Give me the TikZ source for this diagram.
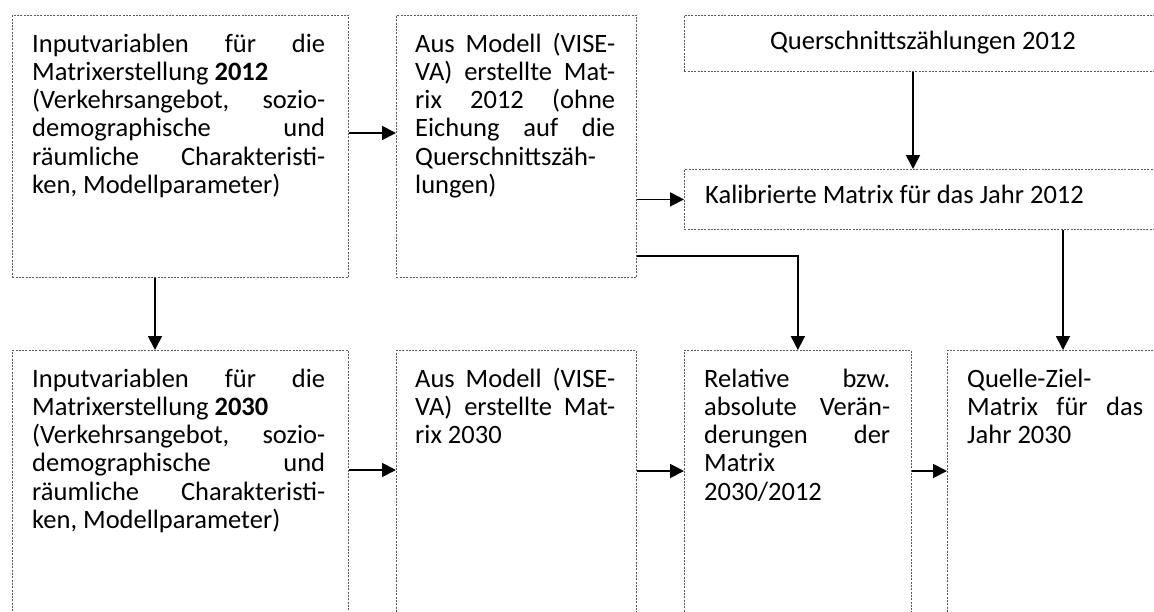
\documentclass[tikz,border=0pt]{standalone}
\usepackage{fontspec}
\setmainfont{Carlito}
\usetikzlibrary{arrows.meta,calc}
\tikzset{
  box/.style={draw=black!65, line width=0.8pt, dash pattern=on 2pt off 1.3pt, inner sep=0pt, anchor=north west},
  txt/.style={inner sep=0pt, anchor=base west, font=\fontsize{26.5pt}{28.3pt}\selectfont},
  arr/.style={line width=1.8pt, -{Triangle[length=14pt,width=14pt]}},
  ln/.style={line width=1.8pt}
}
\begin{document}
\begin{tikzpicture}[x=1pt,y=-1pt]
\useasboundingbox (0,0) rectangle (1154,611);
\clip (0,0) rectangle (1154,611);
% boxes
\node[box, minimum width=336pt, minimum height=262pt] (A) at (12,15) {};
\node[box, minimum width=240pt, minimum height=262pt] (B) at (396,15) {};
\node[box, minimum width=478pt, minimum height=56pt] (C) at (684,15) {};
\node[box, minimum width=478pt, minimum height=60pt] (D) at (684,169) {};
\node[box, minimum width=336pt, minimum height=300pt] (E) at (12,350) {};
\node[box, minimum width=240pt, minimum height=300pt] (F) at (396,350) {};
\node[box, minimum width=227pt, minimum height=300pt] (G) at (684,350) {};
\node[box, minimum width=240pt, minimum height=300pt] (H) at (947,350) {};
% texts
\node[txt] (tA) at (32,52) {\parbox[t]{293pt}{Inputvariablen\hfill für\hfill die\\
Matrixerstellung \textbf{2012}\\
(Verkehrsangebot,\hfill sozio-\\
demographische\hfill und\\
räumliche\hfill Charakteristi-\\
ken, Modellparameter)}};
\node[txt] (tB) at (415,52) {\parbox[t]{200pt}{Aus\hfill Modell\hfill (VISE-\\
VA)\hfill erstellte\hfill Mat-\\
rix\hfill 2012\hfill (ohne\\
Eichung\hfill auf\hfill die\\
Querschnittszäh-\\
lungen)}};
\node[txt, anchor=base] (tC) at (923,49) {Querschnittszählungen 2012};
\node[txt] (tD) at (705,203) {Kalibrierte Matrix für das Jahr 2012};
\node[txt] (tE) at (32,387) {\parbox[t]{293pt}{Inputvariablen\hfill für\hfill die\\
Matrixerstellung \textbf{2030}\\
(Verkehrsangebot,\hfill sozio-\\
demographische\hfill und\\
räumliche\hfill Charakteristi-\\
ken, Modellparameter)}};
\node[txt] (tF) at (415,387) {\parbox[t]{200pt}{Aus\hfill Modell\hfill (VISE-\\
VA)\hfill erstellte\hfill Mat-\\
rix 2030}};
\node[txt] (tG) at (704,387) {\parbox[t]{186pt}{Relative\hfill bzw.\\
absolute\hfill Verän-\\
derungen\hfill der\\
Matrix\\
2030/2012}};
\node[txt] (tH) at (967,387) {\parbox[t]{176pt}{Quelle-Ziel-\\
Matrix\hfill für\hfill das\\
Jahr 2030}};
% connectors
\draw[arr] ($(A.north east)+(0,118)$) -- ($(B.north west)+(0,118)$);
\draw[arr] (B.east |- D.west) -- (D.west);
\draw[arr] ($(C.south west)+(229,0)$) -- ($(D.north west)+(229,0)$);
\draw[arr] ($(B.south east)+(0,-22)$) -| (G.north);
\draw[arr] ($(D.south west)+(379,0)$) -- ($(H.north west)+(116,0)$);
\draw[arr] ($(A.south west)+(143,0)$) -- ($(E.north west)+(143,0)$);
\draw[arr] ($(E.north east)+(0,120)$) -- ($(F.north west)+(0,120)$);
\draw[arr] ($(F.north east)+(0,121)$) -- ($(G.north west)+(0,121)$);
\draw[arr] ($(G.north east)+(0,121)$) -- ($(H.north west)+(0,121)$);
\end{tikzpicture}
\end{document}
